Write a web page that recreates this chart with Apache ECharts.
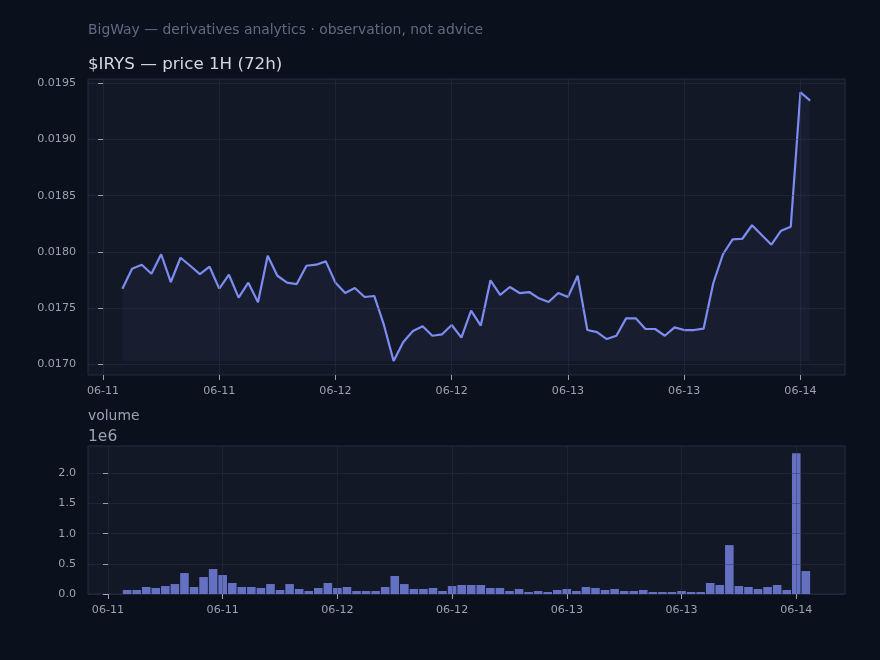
<!DOCTYPE html>
<html>
<head>
<meta charset="utf-8">
<script src="https://cdn.jsdelivr.net/npm/echarts@6/dist/echarts.min.js"></script>
<style>
  html, body { margin: 0; padding: 0; background: #0b101d; }
  #main { width: 880px; height: 660px; }
</style>
</head>
<body>
<div id="main"></div>
<script>
// hours counted from 06-11 00:00, one point per hour
var firstHour = 2;
var price = [
    0.017673, 0.017851, 0.017886, 0.017806, 0.017979, 0.017732, 0.017948, 0.017877,
    0.017803, 0.017868, 0.017673, 0.017797, 0.017593, 0.017726, 0.017552, 0.017966,
    0.017788, 0.017726, 0.017714, 0.017877, 0.017886, 0.017916, 0.017726, 0.017634,
    0.017679, 0.017599, 0.017608, 0.017350, 0.017029, 0.017198, 0.017296, 0.017338,
    0.017254, 0.017267, 0.017350, 0.017237, 0.017477, 0.017345, 0.017747, 0.017617,
    0.017688, 0.017634, 0.017643, 0.017587, 0.017554, 0.017634, 0.017599, 0.017788,
    0.017305, 0.017287, 0.017225, 0.017254, 0.017409, 0.017409, 0.017314, 0.017314,
    0.017254, 0.017329, 0.017305, 0.017305, 0.017317, 0.017721, 0.017979, 0.018112,
    0.018117, 0.018237, 0.018150, 0.018064, 0.018189, 0.018224, 0.019420, 0.019345
];
var volume = [
    66000, 66000, 116000, 99000, 132000, 165000, 347000, 116000,
    281000, 413000, 314000, 182000, 116000, 116000, 99000, 165000,
    66000, 165000, 83000, 50000, 99000, 182000, 99000, 116000,
    50000, 50000, 50000, 116000, 298000, 165000, 83000, 83000,
    99000, 50000, 132000, 149000, 149000, 149000, 99000, 99000,
    50000, 83000, 33000, 50000, 33000, 66000, 83000, 50000,
    116000, 99000, 66000, 83000, 50000, 50000, 66000, 33000,
    33000, 33000, 50000, 33000, 33000, 182000, 149000, 810000,
    132000, 116000, 83000, 116000, 149000, 66000, 2331000, 380000
];
var tickHours = [0, 12, 24, 36, 48, 60, 72];
var tickLabels = ['06-11', '06-11', '06-12', '06-12', '06-13', '06-13', '06-14'];
var priceTicks = [0.0170, 0.0175, 0.0180, 0.0185, 0.0190, 0.0195];
var volumeTicks = [0, 500000, 1000000, 1500000, 2000000];

var priceData = price.map(function (v, i) { return [firstHour + i, v]; });
var volumeData = volume.map(function (v, i) { return [firstHour + i, v]; });
var minPrice = Math.min.apply(null, price);

var font = 'DejaVu Sans';
var labelColor = '#9aa2b3';
var gridLineColor = 'rgba(46, 54, 76, 0.42)';

function xLabel(v) {
    var k = tickHours.indexOf(v);
    return k >= 0 ? tickLabels[k] : '';
}

function xAxisFor(gridIndex, min, max) {
    return {
        type: 'value', gridIndex: gridIndex, min: min, max: max, z: 5,
        axisLine: { show: false },
        axisTick: { show: true, length: 5, customValues: tickHours, lineStyle: { color: labelColor } },
        axisLabel: { customValues: tickHours, formatter: xLabel, color: labelColor, fontFamily: font, fontSize: 11.1, margin: 11 },
        splitLine: { show: true, lineStyle: { color: gridLineColor, width: 1 } }
    };
}

var myChart = echarts.init(document.getElementById('main'));
var option = {
    backgroundColor: '#0b101d',
    animation: false,
    textStyle: { fontFamily: font },
    title: [
        { text: 'BigWay — derivatives analytics · observation, not advice', left: 83, top: 18,
          textStyle: { color: '#5f6a85', fontSize: 13.9, fontWeight: 'normal', fontFamily: font } },
        { text: '$IRYS — price 1H (72h)', left: 83, top: 51,
          textStyle: { color: '#d3d8e3', fontSize: 16.7, fontWeight: 'normal', fontFamily: font } },
        { text: 'volume', left: 83, top: 404,
          textStyle: { color: '#9aa2b3', fontSize: 13.9, fontWeight: 'normal', fontFamily: font } },
        { text: '1e6', left: 83, top: 424,
          textStyle: { color: '#9aa2b3', fontSize: 15.5, fontWeight: 'normal', fontFamily: font } }
    ],
    grid: [
        { left: 88, top: 79, width: 757, height: 296, show: true,
          backgroundColor: '#131826', borderColor: '#262d3e', borderWidth: 1 },
        { left: 88, top: 446, width: 757, height: 148, show: true,
          backgroundColor: '#131826', borderColor: '#262d3e', borderWidth: 1 }
    ],
    xAxis: [
        xAxisFor(0, -1.55, 76.6),
        xAxisFor(1, -2.09, 77.1)
    ],
    yAxis: [
        {
            type: 'value', gridIndex: 0, min: 0.016905, max: 0.019538, z: 5,
            axisLine: { show: false },
            axisTick: { show: true, length: 5, customValues: priceTicks, lineStyle: { color: labelColor } },
            axisLabel: { customValues: priceTicks, formatter: function (v) { return v.toFixed(4); },
                         color: labelColor, fontFamily: font, fontSize: 11.1, margin: 12 },
            splitLine: { show: true, lineStyle: { color: gridLineColor, width: 1 } }
        },
        {
            type: 'value', gridIndex: 1, min: 0, max: 2451000, z: 5,
            axisLine: { show: false },
            axisTick: { show: true, length: 5, customValues: volumeTicks, lineStyle: { color: labelColor } },
            axisLabel: { customValues: volumeTicks, formatter: function (v) { return (v / 1e6).toFixed(1); },
                         color: labelColor, fontFamily: font, fontSize: 11.1, margin: 12 },
            splitLine: { show: true, lineStyle: { color: gridLineColor, width: 1 } }
        }
    ],
    series: [
        {
            name: 'price', type: 'line', xAxisIndex: 0, yAxisIndex: 0,
            data: priceData, symbol: 'none',
            lineStyle: { color: '#7d8cf2', width: 2.2 },
            areaStyle: { color: 'rgba(125, 140, 242, 0.08)', origin: minPrice }
        },
        {
            name: 'volume', type: 'bar', xAxisIndex: 1, yAxisIndex: 1,
            data: volumeData, barWidth: 8.6,
            itemStyle: { color: '#6470c2' }
        }
    ]
};

// 使用刚指定的配置项和数据显示图表。
myChart.setOption(option);
</script>
</body>
</html>
